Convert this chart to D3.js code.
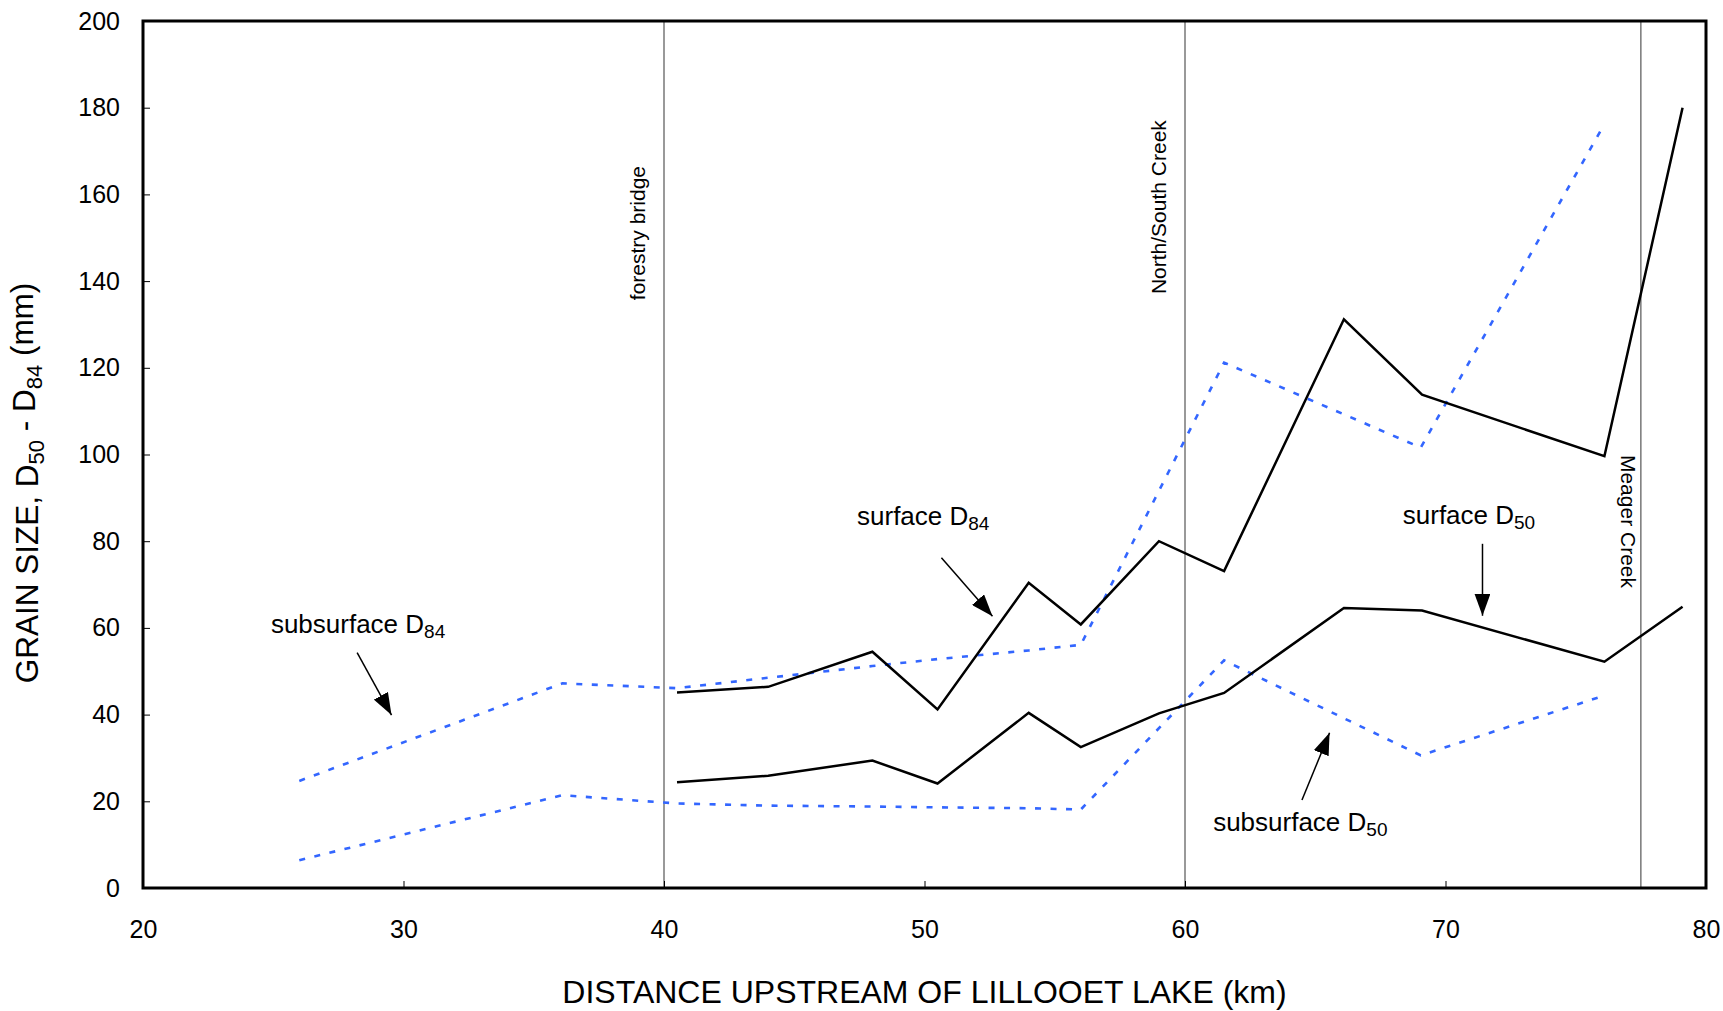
<!DOCTYPE html>
<html>
<head>
<meta charset="utf-8">
<script src="https://cdn.jsdelivr.net/npm/d3@7"></script>
<style>
  body { margin: 0; background: #fff; }
  text { font-family: "Liberation Sans", Arial, sans-serif; fill: #000; }
</style>
</head>
<body>
<div id="chart"></div>
<script>
// data (km upstream, grain size mm)
var surfKm  = [40.5, 44, 48, 50.5, 54, 56, 59, 61.5, 66.1, 69.1, 76.1, 79.1];
var surfD84 = [45.1, 46.4, 54.5, 41.2, 70.4, 60.8, 80.0, 73.1, 131.2, 113.8, 99.6, 180];
var surfD50 = [24.4, 25.9, 29.4, 24.1, 40.4, 32.5, 40.3, 45.0, 64.6, 64.0, 52.2, 64.9];

var subKm  = [26, 36.1, 40.5, 44, 48, 50.5, 54, 56, 61.5, 69.05, 76.05];
var subD84 = [24.7, 47.2, 46.1, 48.5, 51.2, 52.8, 54.8, 56.1, 121.2, 101.6, 175.7];
var subD50 = [6.4, 21.4, 19.5, 19.0, 18.8, 18.6, 18.4, 18.1, 52.5, 30.6, 44.3];

var xTicks = [20, 30, 40, 50, 60, 70, 80];
var yTicks = [0, 20, 40, 60, 80, 100, 120, 140, 160, 180, 200];

// reference sites along the river
var refKm = [40, 60, 77.5];
var refNames = ["forestry bridge", "North/South Creek", "Meager Creek"];
var refLabelY = [135.6, 137, 99.9];

// annotation labels: [km, mm] for text, arrow start and arrow tip
var annoNames = ["subsurface D", "surface D", "surface D", "subsurface D"];
var annoSubs  = ["84", "84", "50", "50"];
var annoText  = [[24.91, 58.8], [47.41, 83.7], [68.36, 84.0], [61.08, 13.1]];
var annoFrom  = [[28.22, 54.3], [50.65, 76.2], [71.42, 79.4], [64.49, 20.3]];
var annoTo    = [[29.54, 39.9], [52.61, 62.7], [71.42, 62.8], [65.55, 35.8]];

// set chart dimensions
var W = 1723, H = 1011;
var margin = {top: 21, right: 17, bottom: 123, left: 143},
    width = W - margin.left - margin.right,
    height = H - margin.top - margin.bottom;

var svg = d3.select("#chart")
  .append("svg")
    .attr("width", W)
    .attr("height", H);

svg.append("rect").attr("width", W).attr("height", H).attr("fill", "#fff");

var defs = svg.append("defs");
defs.append("marker")
    .attr("id", "arrow")
    .attr("markerUnits", "userSpaceOnUse")
    .attr("viewBox", "0 0 22 16")
    .attr("refX", 22)
    .attr("refY", 8)
    .attr("markerWidth", 22)
    .attr("markerHeight", 16)
    .attr("orient", "auto")
  .append("path")
    .attr("d", "M0,0 L22,8 L0,16 Z")
    .attr("fill", "#000");

var g = svg.append("g")
    .attr("transform", "translate(" + margin.left + "," + margin.top + ")");

var x = d3.scaleLinear().domain([20, 80]).range([0, width]);
var y = d3.scaleLinear().domain([0, 200]).range([height, 0]);

// reference lines
g.selectAll(".ref")
  .data(refKm)
  .enter()
  .append("line")
    .attr("x1", function(d) { return x(d); })
    .attr("x2", function(d) { return x(d); })
    .attr("y1", 0)
    .attr("y2", height)
    .attr("stroke", "#555")
    .attr("stroke-width", 1.2);

// first two read bottom-to-top, Meager Creek reads top-to-bottom
refKm.forEach(function(k, i) {
  var up = i < 2;
  g.append("text")
    .attr("transform", "translate(" + (x(k) + (up ? -19 : -20)) + "," + y(refLabelY[i]) + ")rotate(" + (up ? -90 : 90) + ")")
    .attr("text-anchor", "start")
    .style("font-size", "21px")
    .text(refNames[i]);
});

// axes
g.append("g")
    .attr("transform", "translate(0," + height + ")")
    .call(d3.axisBottom(x).tickValues(xTicks).tickSizeInner(-7).tickSizeOuter(0).tickPadding(32))
    .call(function(a) { a.select(".domain").remove(); })
    .selectAll("text")
      .style("font-size", "25px")
      .style("font-family", "Liberation Sans, Arial, sans-serif");

g.append("g")
    .call(d3.axisLeft(y).tickValues(yTicks).tickSizeInner(-7).tickSizeOuter(0).tickPadding(23))
    .call(function(a) { a.select(".domain").remove(); })
    .selectAll("text")
      .style("font-size", "25px")
      .style("font-family", "Liberation Sans, Arial, sans-serif");

// frame
g.append("rect")
    .attr("width", width)
    .attr("height", height)
    .attr("fill", "none")
    .attr("stroke", "#000")
    .attr("stroke-width", 3);

// series
function drawLine(xs, ys, color, dash) {
  var pts = xs.map(function(k, i) { return [k, ys[i]]; });
  var line = d3.line()
    .x(function(d) { return x(d[0]); })
    .y(function(d) { return y(d[1]); });
  g.append("path")
    .datum(pts)
    .attr("d", line)
    .attr("fill", "none")
    .attr("stroke", color)
    .attr("stroke-width", dash ? 2.6 : 2.5)
    .attr("stroke-dasharray", dash ? "6,9.5" : null);
}
drawLine(subKm, subD84, "#3366ff", true);
drawLine(subKm, subD50, "#3366ff", true);
drawLine(surfKm, surfD84, "#000", false);
drawLine(surfKm, surfD50, "#000", false);

// annotations
annoNames.forEach(function(n, i) {
  var t = g.append("text")
    .attr("x", x(annoText[i][0]))
    .attr("y", y(annoText[i][1]))
    .style("font-size", "26px")
    .text(n);
  t.append("tspan")
    .attr("dy", "0.25em")
    .style("font-size", "19px")
    .text(annoSubs[i]);
  g.append("line")
    .attr("x1", x(annoFrom[i][0]))
    .attr("y1", y(annoFrom[i][1]))
    .attr("x2", x(annoTo[i][0]))
    .attr("y2", y(annoTo[i][1]))
    .attr("stroke", "#000")
    .attr("stroke-width", 1.5)
    .attr("marker-end", "url(#arrow)");
});

// axis titles
svg.append("text")
    .attr("x", margin.left + width / 2)
    .attr("y", 1003)
    .attr("text-anchor", "middle")
    .style("font-size", "32px")
    .text("DISTANCE UPSTREAM OF LILLOOET LAKE (km)");

var yt = svg.append("text")
    .attr("transform", "translate(38,483)rotate(-90)")
    .attr("text-anchor", "middle")
    .style("font-size", "31.5px");
yt.append("tspan").text("GRAIN SIZE, D");
yt.append("tspan").attr("dy", "0.28em").style("font-size", "22px").text("50");
yt.append("tspan").attr("dy", "-0.28em").text(" - D");
yt.append("tspan").attr("dy", "0.28em").style("font-size", "22px").text("84");
yt.append("tspan").attr("dy", "-0.28em").text(" (mm)");
</script>
</body>
</html>
